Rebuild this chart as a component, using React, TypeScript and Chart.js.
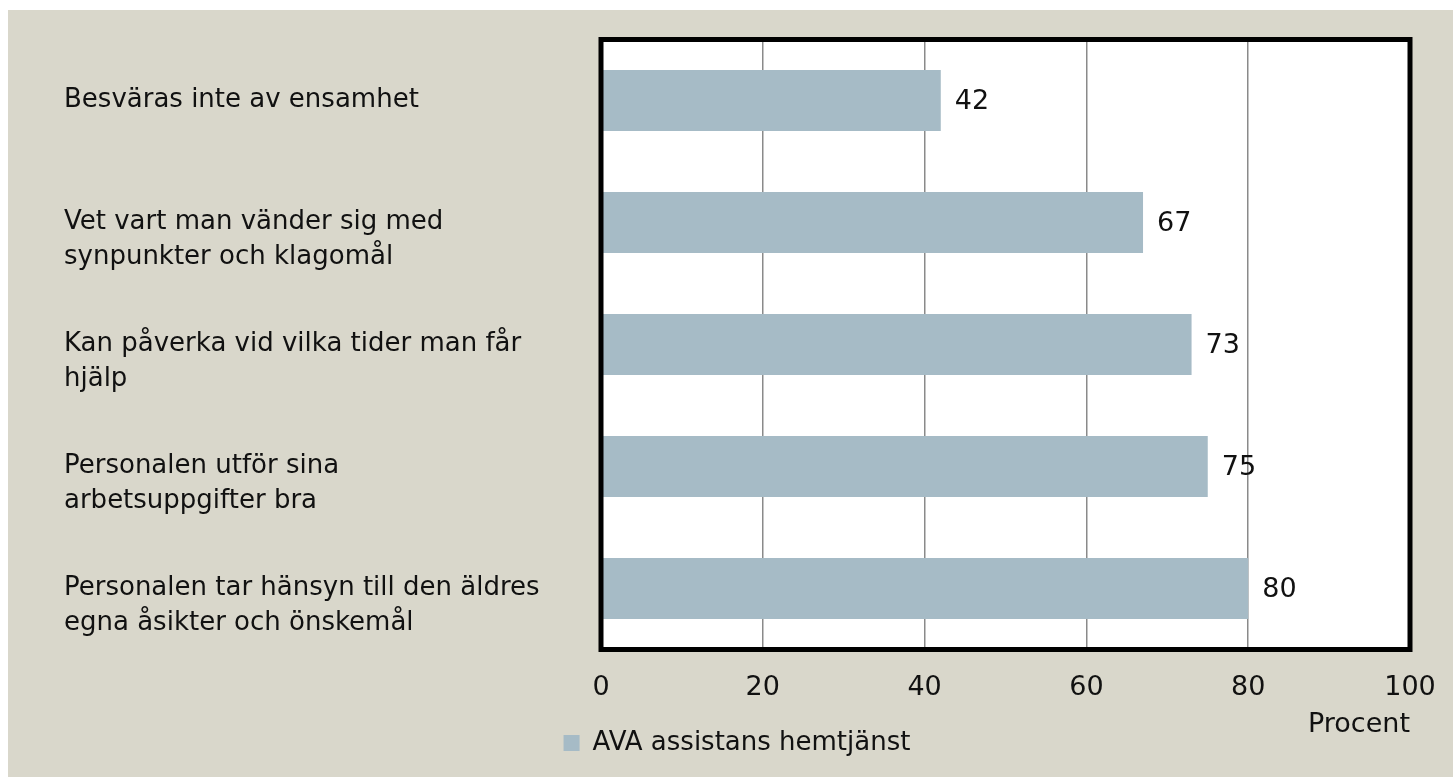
import React, { useEffect, useRef } from "react";
import { Chart, registerables } from "chart.js";

Chart.register(...registerables);

const categories: string[][] = [
  ["Besväras inte av ensamhet"],
  ["", "Vet vart man vänder sig med", "synpunkter och klagomål"],
  ["", "Kan påverka vid vilka tider man får", "hjälp"],
  ["", "Personalen utför sina", "arbetsuppgifter bra"],
  ["", "Personalen tar hänsyn till den äldres", "egna åsikter och önskemål"],
];
const seriesName = "AVA assistans hemtjänst";
const values = [42, 67, 73, 75, 80];
const axisTitle = "Procent";

const BG = "#d9d7cb";
const BAR = "#a6bbc6";
const TEXT = "#111111";
const FONT = "'DejaVu Sans', sans-serif";

const plotBgPlugin = {
  id: "plotBg",
  beforeDraw(chart: any) {
    const { ctx, chartArea } = chart;
    ctx.save();
    ctx.fillStyle = "#ffffff";
    ctx.fillRect(chartArea.left, chartArea.top, chartArea.right - chartArea.left, chartArea.bottom - chartArea.top);
    ctx.restore();
  },
};

const frameAndLabelsPlugin = {
  id: "frameAndLabels",
  afterDatasetsDraw(chart: any) {
    const { ctx, chartArea } = chart;
    ctx.save();
    ctx.strokeStyle = "#000000";
    ctx.lineWidth = 5;
    ctx.strokeRect(chartArea.left, chartArea.top, chartArea.right - chartArea.left, chartArea.bottom - chartArea.top);
    const meta = chart.getDatasetMeta(0);
    ctx.fillStyle = TEXT;
    ctx.font = `27px ${FONT}`;
    ctx.textAlign = "left";
    ctx.textBaseline = "middle";
    meta.data.forEach((bar: any, i: number) => {
      ctx.fillText(String(values[i]), bar.x + 14, bar.y + 1);
    });
    ctx.restore();
  },
};

export default function App() {
  const ref = useRef<HTMLCanvasElement | null>(null);
  useEffect(() => {
    if (!ref.current) return;
    Chart.defaults.color = TEXT;
    Chart.defaults.font.family = FONT;
    const chart = new Chart(ref.current, {
      type: "bar",
      data: {
        labels: categories,
        datasets: [
          {
            label: seriesName,
            data: values,
            backgroundColor: BAR,
            borderWidth: 0,
            barPercentage: 0.5,
            categoryPercentage: 1,
          },
        ],
      },
      options: {
        indexAxis: "y",
        animation: false,
        responsive: true,
        maintainAspectRatio: false,
        layout: { padding: { left: 56, right: 43, top: 29.5, bottom: 11 } },
        scales: {
          x: {
            min: 0,
            max: 100,
            ticks: { stepSize: 20, padding: 22, font: { size: 27 }, color: TEXT },
            grid: { color: "#8a8a8a", lineWidth: 1.5, drawTicks: false },
            border: { display: false },
            title: {
              display: true,
              text: axisTitle,
              align: "end",
              font: { size: 27 },
              color: TEXT,
              padding: { top: 0, bottom: -11 },
            },
            afterFit: (scale: any) => {
              scale.height = 80.5;
              scale.paddingLeft = 0;
              scale.paddingRight = 0;
            },
          },
          y: {
            ticks: {
              crossAlign: "far",
              font: { size: 26, lineHeight: 1.35 },
              color: TEXT,
            },
            grid: { display: false },
            border: { display: false },
            afterFit: (scale: any) => {
              scale.width = 537;
              scale.paddingTop = 0;
              scale.paddingBottom = 0;
            },
          },
        },
        plugins: {
          legend: {
            position: "bottom",
            labels: {
              boxWidth: 16,
              boxHeight: 16,
              padding: 0,
              font: { size: 26 },
              color: TEXT,
            },
          },
          tooltip: { enabled: false },
        },
      },
      plugins: [plotBgPlugin, frameAndLabelsPlugin],
    });
    return () => chart.destroy();
  }, []);
  return (
    <div
      style={{
        position: "fixed",
        left: 8,
        top: 10,
        right: 0,
        bottom: 0,
        background: BG,
      }}
    >
      <canvas ref={ref} />
    </div>
  );
}
